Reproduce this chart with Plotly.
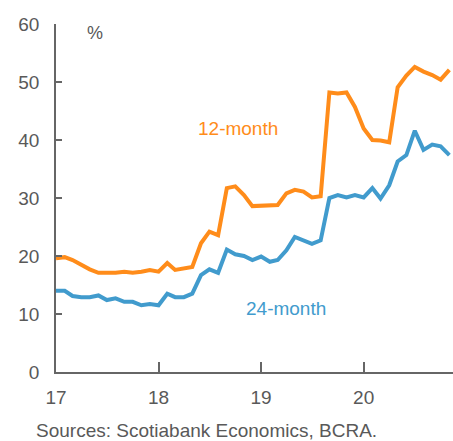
import pandas as pd
import plotly.graph_objects as go

# Monthly observations, Jan 2017 - Nov 2020
months = pd.date_range("2017-01-01", periods=47, freq="MS")

expect_12m = [19.6, 19.8, 19.3, 18.5, 17.7, 17.1, 17.1, 17.1, 17.3, 17.1, 17.3, 17.6,
              17.3, 18.8, 17.6, 17.9, 18.1, 22.2, 24.2, 23.6, 31.7, 32.0, 30.5, 28.6,
              28.7, 28.7, 28.8, 30.8, 31.4, 31.1, 30.1, 30.3, 48.2, 48.0, 48.2, 45.7,
              42.0, 40.0, 39.9, 39.6, 49.1, 51.1, 52.6, 51.8, 51.2, 50.4, 52.1]

expect_24m = [14.0, 14.0, 13.1, 12.9, 12.9, 13.2, 12.4, 12.7, 12.1, 12.1, 11.5, 11.7,
              11.5, 13.5, 12.9, 12.9, 13.5, 16.7, 17.7, 17.1, 21.1, 20.3, 20.0, 19.3,
              19.9, 19.0, 19.3, 21.0, 23.3, 22.7, 22.1, 22.7, 30.0, 30.5, 30.1, 30.5,
              30.1, 31.7, 29.9, 32.2, 36.3, 37.4, 41.6, 38.3, 39.2, 38.9, 37.4]

ORANGE = "#FF8C1A"
BLUE = "#419BCD"
GREY = "#595959"
FONT = "Liberation Sans, Arial, sans-serif"

fig = go.Figure()
fig.add_trace(go.Scatter(x=months, y=expect_24m, mode="lines", name="24-month",
                         line=dict(color=BLUE, width=4), hoverinfo="skip"))
fig.add_trace(go.Scatter(x=months, y=expect_12m, mode="lines", name="12-month",
                         line=dict(color=ORANGE, width=4), hoverinfo="skip"))

fig.update_layout(
    width=453, height=441,
    margin=dict(l=56, r=0, t=24, b=69),
    paper_bgcolor="white", plot_bgcolor="white",
    showlegend=False,
    font=dict(family=FONT, size=19, color=GREY),
    xaxis=dict(
        range=["2017-01-01", "2020-11-14"],
        tickformat="%y", dtick="M12", tick0="2017-01-01",
        ticks="inside", ticklen=10, tickwidth=1.5, tickcolor="#666666",
        showline=True, linecolor="#666666", linewidth=1.5,
        showgrid=False, zeroline=False,
        ticklabelstandoff=7,
        tickfont=dict(family=FONT, size=19, color=GREY),
    ),
    yaxis=dict(
        range=[0, 60], dtick=10,
        ticks="inside", ticklen=6, tickwidth=1.5, tickcolor="#666666",
        showline=True, linecolor="#666666", linewidth=1.5,
        showgrid=False, zeroline=False,
        ticklabelstandoff=11,
        tickfont=dict(family=FONT, size=19, color=GREY),
    ),
)

fig.add_annotation(x=94.5, y=441 - 33, xref="paper", yref="paper", text="%",
                   showarrow=False, xanchor="center", yanchor="middle",
                   font=dict(family=FONT, size=18, color=GREY))
fig.add_annotation(x="2018-10-10", y=41.9, text="12-month", showarrow=False,
                   font=dict(family=FONT, size=19, color=ORANGE))
fig.add_annotation(x="2019-03-29", y=11.0, text="24-month", showarrow=False,
                   font=dict(family=FONT, size=19, color=BLUE))
fig.add_annotation(x=35, y=11, xref="paper", yref="paper", text="Sources: Scotiabank Economics, BCRA.",
                   showarrow=False, xanchor="left", yanchor="middle", borderpad=0,
                   font=dict(family=FONT, size=19, color=GREY))

# Paper annotations placed in pixels: convert to paper fractions
plot_w = 453 - 56
plot_h = 441 - 24 - 69
for ann in fig.layout.annotations:
    if ann.xref == "paper":
        ann.x = (ann.x - 56) / plot_w
        ann.y = (ann.y - 69) / plot_h

fig.write_html("out.html")
